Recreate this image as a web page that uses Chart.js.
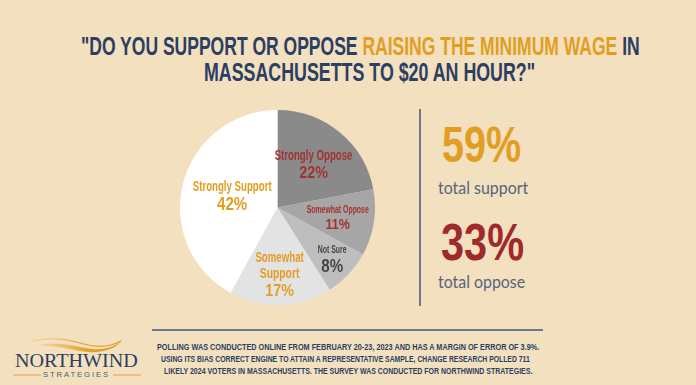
<!DOCTYPE html>
<html>
<head>
<meta charset="utf-8">
<script src="https://cdn.jsdelivr.net/npm/chart.js"></script>
<style>
  html, body { margin: 0; padding: 0; }
  body {
    width: 696px; height: 385px; overflow: hidden; position: relative;
    background: #f2e0bf;
    font-family: "Liberation Sans", Arial, sans-serif;
  }
  .t { position: absolute; white-space: nowrap; line-height: 1; transform-origin: 0 0; }
  .cond { font-weight: bold; }
  .navy { color: #2b3e63; }
  .hl { color: #e29e22; }
  .sub { font-family: Lato, "Open Sans", sans-serif; color: #56657e; font-size: 17px; }
  #pieBox { position: absolute; left: 180px; top: 110px; width: 195px; height: 195px; }
  .rule { position: absolute; background: #6b7890; }
</style>
</head>
<body>

<div class="t cond navy" data-w="559" style="left:81px; top:33px; font-size:26px;">"DO YOU SUPPORT OR OPPOSE <span class="hl">RAISING THE MINIMUM WAGE</span> IN</div>
<div class="t cond navy" data-w="331" style="left:204px; top:59px; font-size:26px;">MASSACHUSETTS TO $20 AN HOUR?"</div>

<div id="pieBox"><canvas id="myChart"></canvas></div>

<div class="rule" style="left:419px; top:109px; width:2px; height:197px;"></div>
<div class="t cond" id="supportTotal" data-w="79" style="left:442px; top:120px; font-size:50px; color:#e29e22;"></div>
<div class="t sub" data-w="90" style="left:438px; top:179px;">total support</div>
<div class="t cond" id="opposeTotal" data-w="83" style="left:441px; top:216px; font-size:52px; color:#9e2a2b;"></div>
<div class="t sub" data-w="87" style="left:438px; top:273px;">total oppose</div>

<div class="rule" style="left:152px; top:329px; width:391px; height:2px;"></div>
<div class="t cond navy" data-w="382" style="left:157px; top:342px; font-size:9.5px;">POLLING WAS CONDUCTED ONLINE FROM FEBRUARY 20-23, 2023 AND HAS A MARGIN OF ERROR OF 3.9%.</div>
<div class="t cond navy" data-w="369" style="left:161px; top:354px; font-size:9.5px;">USING ITS BIAS CORRECT ENGINE TO ATTAIN A REPRESENTATIVE SAMPLE, CHANGE RESEARCH POLLED 711</div>
<div class="t cond navy" data-w="368" style="left:164px; top:366px; font-size:9.5px;">LIKELY 2024 VOTERS IN MASSACHUSETTS. THE SURVEY WAS CONDUCTED FOR NORTHWIND STRATEGIES.</div>

<svg style="position:absolute; left:0; top:330px;" width="160" height="55">
  <defs>
    <linearGradient id="sw" x1="0" x2="1">
      <stop offset="0" stop-color="#f0c060" stop-opacity="0.3"/>
      <stop offset="0.6" stop-color="#e4a128"/>
      <stop offset="1" stop-color="#d99a20"/>
    </linearGradient>
  </defs>
  <path d="M30 12 C 50 6, 68 9, 84 14 C 98 18, 110 17, 121 11" fill="none" stroke="url(#sw)" stroke-width="1.2"/>
  <path d="M36 16 C 58 10, 74 17, 92 19 C 104 20, 113 17, 121 12 C 112 21, 96 24, 80 21 C 64 18, 50 15, 36 16 Z" fill="url(#sw)"/>
  <path d="M13 45 H 41 M 113 45 H 141" stroke="#e2a636" stroke-width="1.2"/>
</svg>
<div class="t" data-w="123" style="left:15px; top:352px; font-size:18px; font-family:'Liberation Serif', serif; color:#2b3e63;">NORTHWIND</div>
<div class="t" data-w="67" style="left:43px; top:371px; font-size:8px; letter-spacing:2px; color:#4a5a72;">STRATEGIES</div>

<script>
const categories = ['Strongly Oppose', 'Somewhat Oppose', 'Not Sure', 'Somewhat Support', 'Strongly Support'];
const values = [22, 11, 8, 17, 42];
const sliceColors = ['#8a8a8a', '#a6a6a6', '#bebebe', '#e3e3e3', '#ffffff'];
const labelColors = ['#a53131', '#a53131', '#464646', '#e29e22', '#e29e22'];
const totalSupport = 59;
const totalOppose = 33;

document.getElementById('supportTotal').textContent = totalSupport + '%';
document.getElementById('opposeTotal').textContent = totalOppose + '%';

// squeeze each text block to the width it has in the picture
document.querySelectorAll('[data-w]').forEach(el => {
  const s = parseFloat(el.dataset.w) / el.offsetWidth;
  el.style.transform = 'scaleX(' + s + ')';
});

const sliceLabels = {
  id: 'sliceLabels',
  afterDatasetsDraw(chart, args, opts) {
    const ctx = chart.ctx;
    chart.getDatasetMeta(0).data.forEach((arc, i) => {
      const p = arc.getProps(['x', 'y', 'startAngle', 'endAngle', 'outerRadius'], true);
      const mid = (p.startAngle + p.endAngle) / 2;
      const d = p.outerRadius * opts.radius[i];
      const cx = p.x + Math.cos(mid) * d;
      const cy = p.y + Math.sin(mid) * d;
      const name = categories[i];
      const lines = (opts.wrap.includes(i) ? name.split(' ') : [name]).concat(values[i] + '%');
      const sizes = opts.sizes[i];
      let h = sizes[0] * 0.72;
      for (let k = 1; k < lines.length; k++) h += sizes[k] * 1.05;
      let base = cy - h / 2 + sizes[0] * 0.72;
      ctx.save();
      ctx.fillStyle = labelColors[i];
      ctx.textAlign = 'center';
      ctx.textBaseline = 'alphabetic';
      lines.forEach((txt, k) => {
        if (k > 0) base += sizes[k] * 1.05;
        const pct = k === lines.length - 1;
        ctx.save();
        ctx.translate(cx, base);
        ctx.scale(pct ? 0.84 : 0.69, 1);
        ctx.font = 'bold ' + sizes[k] + 'px "Liberation Sans", Arial, sans-serif';
        ctx.fillText(txt, 0, 0);
        ctx.restore();
      });
      ctx.restore();
    });
  }
};

const config = {
  type: 'pie',
  data: {
    labels: categories,
    datasets: [{
      data: values,
      backgroundColor: sliceColors,
      borderWidth: 0
    }]
  },
  options: {
    responsive: true,
    maintainAspectRatio: false,
    animation: false,
    layout: { padding: 0 },
    plugins: {
      legend: { display: false },
      tooltip: { enabled: false },
      sliceLabels: {
        radius: [0.58, 0.625, 0.77, 0.68, 0.48],
        wrap: [3],
        sizes: [[14, 17], [10, 15], [10, 18], [14, 15, 17], [14, 18]]
      }
    }
  },
  plugins: [sliceLabels]
};

const ctx = document.getElementById('myChart').getContext('2d');
const chart = new Chart(ctx, config);
</script>
</body>
</html>
